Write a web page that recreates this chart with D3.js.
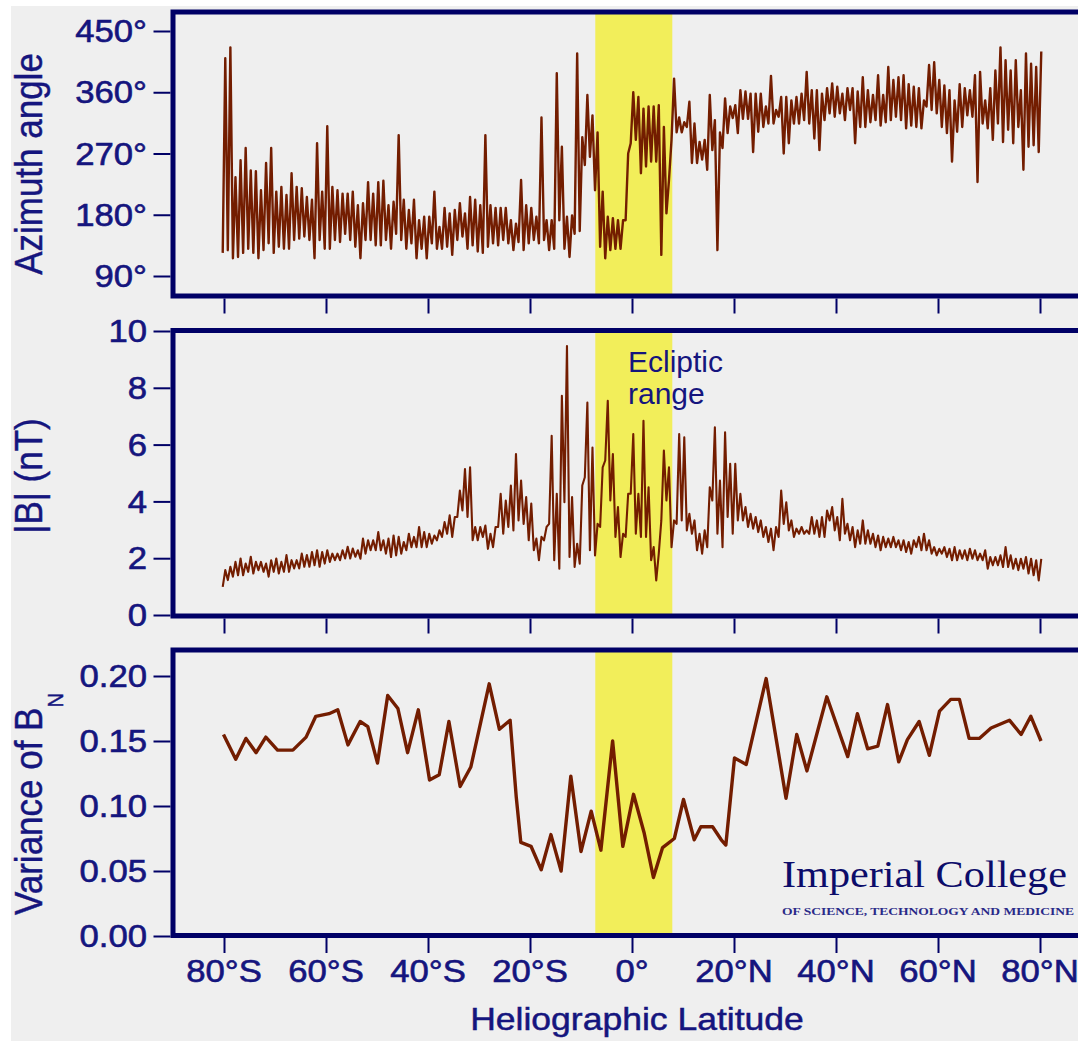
<!DOCTYPE html>
<html>
<head>
<meta charset="utf-8">
<script src="https://cdn.jsdelivr.net/npm/d3@7"></script>
<style>
body { margin: 0; background: #fff; }
svg { display: block; }
</style>
</head>
<body>
<div id="chart"></div>
<script>
// sampling grid of the two dense series (1 degree bins, -80 .. 80)
var latGrid = d3.range(-80, 81, 1);

// azimuth angle: per bin top and bottom of the trace (deg)
var azHigh = [410,426,235,260,278,245,244,216,256,278,
  214,221,209,241,221,219,206,202,285,214,
  310,221,216,211,211,214,194,197,228,211,
  228,230,194,199,297,202,187,202,172,177,
  177,214,162,190,182,187,197,182,206,202,
  194,297,194,190,190,190,172,167,231,194,
  190,177,323,172,172,388,280,177,179,417,
  294,356,326,301,214,177,175,172,172,270,
  360,353,336,339,339,341,309,231,380,323,
  316,346,314,287,290,356,319,301,351,339,
  341,363,361,358,358,358,339,384,334,353,
  353,348,353,358,390,363,363,358,366,373,
  368,358,366,366,361,382,363,356,385,356,
  397,378,382,385,372,368,366,348,400,404,
  378,370,363,348,372,366,363,385,390,348,
  366,392,426,407,392,407,363,417,402,397,
  420];
var azLow = [124,128,116,118,124,130,124,116,128,138,
  124,133,130,130,143,145,148,143,116,143,
  130,130,143,140,152,143,133,116,143,143,
  135,135,143,130,152,143,130,138,116,130,
  116,138,130,130,133,121,143,148,130,135,
  126,124,133,138,135,143,138,128,140,128,
  138,143,138,143,128,130,172,130,118,152,
  156,253,265,216,133,116,128,130,130,172,
  285,290,241,251,258,258,121,182,290,301,
  301,309,256,256,261,246,275,128,278,300,
  322,300,321,321,272,302,309,314,314,324,
  270,285,314,314,319,314,292,275,319,329,
  324,329,319,334,285,309,309,316,319,311,
  316,319,324,319,307,311,309,307,339,334,
  329,309,300,258,302,309,326,324,228,314,
  307,290,314,287,305,285,309,246,280,282,
  272];

// field magnitude |B| (nT)
var bHigh = [1.58,1.70,1.87,1.99,1.81,2.05,1.87,1.87,1.81,1.93,
  1.99,1.87,2.11,1.93,1.93,2.16,2.11,2.22,2.28,2.22,
  2.28,2.16,2.16,2.28,2.40,2.34,2.28,2.69,2.63,2.63,
  2.92,2.63,2.69,2.80,2.75,2.57,2.86,2.75,3.10,2.92,
  2.86,2.80,2.98,3.27,3.51,3.45,4.38,5.14,5.20,3.10,
  3.10,3.15,2.86,3.10,4.27,4.03,4.56,5.67,4.73,4.15,
  3.92,2.69,2.75,3.10,6.31,4.27,7.72,9.47,4.15,2.51,
  4.56,7.48,5.90,3.21,5.20,7.54,5.67,3.80,2.86,4.27,
  6.37,4.27,6.84,4.50,2.39,2.16,5.79,5.20,3.33,6.37,
  6.26,3.56,3.33,2.86,2.98,4.50,6.61,4.73,6.43,5.32,
  5.32,4.27,3.80,3.56,3.45,3.33,3.10,3.04,3.10,4.38,
  3.97,3.33,3.04,3.10,2.98,3.45,3.33,3.45,3.68,3.80,
  3.45,4.09,3.21,3.10,2.98,3.33,2.98,2.86,2.80,2.75,
  2.69,2.75,2.63,2.63,2.57,2.63,2.75,2.86,2.63,2.39,
  2.33,2.39,2.33,2.39,2.28,2.28,2.33,2.28,2.16,2.28,
  2.04,2.04,2.10,2.39,2.10,1.98,1.98,2.04,1.98,1.93,
  1.98];
var bLow = [0.99,1.23,1.35,1.40,1.40,1.52,1.46,1.58,1.52,1.35,
  1.52,1.46,1.52,1.52,1.64,1.64,1.70,1.70,1.75,1.70,
  1.81,1.87,1.93,1.93,1.99,1.99,2.05,1.98,2.16,2.28,
  2.28,2.28,2.16,2.04,2.10,2.16,2.28,2.39,2.39,2.39,
  2.39,2.51,2.63,2.75,2.86,2.75,3.45,3.68,3.45,2.63,
  2.63,2.75,2.33,2.39,3.10,2.86,3.10,2.98,3.33,3.21,
  2.63,2.28,1.93,2.63,3.21,1.93,1.63,3.97,2.04,1.69,
  1.81,4.85,2.28,2.10,3.10,5.44,4.03,2.75,2.04,2.75,
  4.27,2.86,2.75,2.75,1.93,1.22,3.33,4.03,2.39,3.21,
  3.33,2.98,2.86,2.28,2.16,2.39,4.03,2.86,2.39,3.45,
  2.86,3.33,3.33,3.10,3.04,2.92,2.75,2.57,2.28,2.75,
  3.21,2.98,2.75,2.86,2.86,2.86,2.86,2.75,2.75,3.33,
  2.98,2.63,2.86,2.63,2.39,2.51,2.51,2.51,2.39,2.28,
  2.39,2.39,2.39,2.28,2.22,2.16,2.39,2.28,2.28,2.16,
  2.10,2.16,2.04,1.93,1.93,1.98,1.93,1.98,1.93,1.93,
  1.63,1.75,1.75,1.69,1.69,1.63,1.58,1.63,1.46,1.40,
  1.22];

// variance of B_N
var varLat = [-80.1,-77.7,-75.7,-73.7,-71.8,-69.5,-66.5,-63.9,-62.0,-59.4,
  -57.7,-55.7,-53.3,-51.8,-49.9,-47.9,-45.9,-44.0,-41.9,-39.7,
  -37.8,-35.9,-33.7,-31.6,-28.0,-26.0,-23.9,-22.7,-21.8,-19.8,
  -17.8,-15.9,-13.9,-12.0,-10.0,-8.0,-6.1,-3.8,-1.8,0.3,
  2.4,4.2,6.0,8.3,10.1,12.2,13.5,15.8,17.5,18.4,
  20.1,22.4,26.3,30.2,32.3,34.3,38.2,42.3,44.2,46.2,
  48.2,50.1,52.3,54.0,56.3,58.3,60.3,62.5,64.2,66.1,
  68.1,70.4,74.0,76.3,78.2,80.2];
var varVal = [0.155,0.136,0.152,0.141,0.153,0.143,0.143,0.153,0.169,0.171,
  0.174,0.147,0.165,0.161,0.133,0.185,0.175,0.141,0.174,0.120,
  0.124,0.165,0.115,0.130,0.194,0.159,0.166,0.107,0.072,0.069,
  0.051,0.078,0.050,0.123,0.065,0.096,0.066,0.150,0.069,0.109,
  0.079,0.045,0.068,0.075,0.105,0.074,0.084,0.084,0.074,0.070,
  0.137,0.132,0.198,0.106,0.155,0.127,0.184,0.138,0.171,0.144,
  0.146,0.178,0.134,0.151,0.165,0.139,0.173,0.182,0.182,0.152,
  0.152,0.160,0.166,0.155,0.169,0.150];

var latTicks = [-80, -60, -40, -20, 0, 20, 40, 60, 80];
var azTicks = [90, 180, 270, 360, 450];
var bTicks = [0, 2, 4, 6, 8, 10];
var varTicks = [0, 0.05, 0.10, 0.15, 0.20];
var eclipticBand = [-7.2, 7.9];

var W = 1078, H = 1041;
var navy = "#000066", ink = "#15157e", brown = "#731d00";
var sans = "'Liberation Sans', Arial, Helvetica, sans-serif";
var stretch = 1.12; // the original labels are a little wide

var svg = d3.select("#chart").append("svg")
    .attr("width", W)
    .attr("height", H);

svg.append("rect")
    .attr("x", 11).attr("y", 6)
    .attr("width", W).attr("height", H)
    .attr("fill", "#efefef");

var x = d3.scaleLinear().domain([-80, 80]).range([224, 1040]);
var frameLeft = 173, frameRight = 1110;

// zigzag through bottom/top of each bin so the trace looks like the dense record
function envelope(lo, hi){
    var pts = [];
    latGrid.forEach(function(l, i){
        pts.push([l - 0.25, lo[i]]);
        pts.push([l + 0.25, hi[i]]);
    });
    return pts;
}

var panels = [
    {top: 12, bottom: 296, y: d3.scaleLinear().domain([90, 450]).range([276, 31]),
     ticks: azTicks, fmt: function(d){ return d + "°"; },
     pts: envelope(azLow, azHigh), width: 2.4},
    {top: 330.5, bottom: 616, y: d3.scaleLinear().domain([0, 10]).range([615, 331]),
     ticks: bTicks, fmt: function(d){ return d; },
     pts: envelope(bLow, bHigh), width: 2.1},
    {top: 650, bottom: 935.5, y: d3.scaleLinear().domain([0, 0.2]).range([936, 676]),
     ticks: varTicks, fmt: d3.format(".2f"),
     pts: varLat.map(function(l, i){ return [l, varVal[i]]; }), width: 3.4}
];

panels.forEach(function(p, k){
    var g = svg.append("g");

    g.append("rect")
        .attr("x", x(eclipticBand[0]))
        .attr("y", p.top)
        .attr("width", x(eclipticBand[1]) - x(eclipticBand[0]))
        .attr("height", p.bottom - p.top)
        .attr("fill", "#f2ee5a");

    var line = d3.line()
        .x(function(d){ return x(d[0]); })
        .y(function(d){ return p.y(d[1]); });

    g.append("path")
        .datum(p.pts)
        .attr("d", line)
        .attr("fill", "none")
        .attr("stroke", brown)
        .attr("stroke-width", p.width)
        .attr("stroke-linejoin", "round");

    g.append("rect")
        .attr("x", frameLeft)
        .attr("y", p.top)
        .attr("width", frameRight - frameLeft)
        .attr("height", p.bottom - p.top)
        .attr("fill", "none")
        .attr("stroke", navy)
        .attr("stroke-width", 5);

    var ya = g.append("g")
        .attr("transform", "translate(" + (frameLeft - 2.5) + ",0)")
        .call(d3.axisLeft(p.y).tickValues(p.ticks).tickSize(17).tickFormat(""));
    ya.select(".domain").remove();
    ya.selectAll("line").attr("stroke", navy).attr("stroke-width", 2);

    var xa = g.append("g")
        .attr("transform", "translate(0," + (p.bottom + 2.5) + ")")
        .call(d3.axisBottom(x).tickValues(latTicks).tickSize(15).tickFormat(""));
    xa.select(".domain").remove();
    xa.selectAll("line").attr("stroke", navy).attr("stroke-width", 2);

    g.selectAll(".ylab")
        .data(p.ticks)
        .enter().append("text")
        .attr("class", "ylab")
        .attr("transform", function(d){ return "translate(147," + p.y(d) + ") scale(" + stretch + ",1)"; })
        .attr("dy", "0.36em")
        .attr("text-anchor", "end")
        .style("font-family", sans)
        .style("font-size", "31px")
        .style("fill", ink)
        .style("stroke", ink)
        .style("stroke-width", 0.6)
        .text(p.fmt);

    if (k == 2) {
        g.selectAll(".xlab")
            .data(latTicks)
            .enter().append("text")
            .attr("class", "xlab")
            .attr("transform", function(d){ return "translate(" + x(d) + ",982) scale(" + stretch + ",1)"; })
            .attr("text-anchor", "middle")
            .style("font-family", sans)
            .style("font-size", "31px")
            .style("fill", ink)
            .style("stroke", ink)
            .style("stroke-width", 0.6)
            .text(function(d){ return d < 0 ? (-d) + "°S" : d > 0 ? d + "°N" : "0°"; });
    }
});

// axis titles
function vtitle(txt, cx, cy, anchor){
    return svg.append("text")
        .attr("transform", "translate(" + cx + "," + cy + ") scale(1.1,1) rotate(-90)")
        .attr("text-anchor", anchor)
        .style("font-family", sans)
        .style("font-size", "35px")
        .style("fill", ink)
        .style("stroke", ink)
        .style("stroke-width", 0.4)
        .text(txt);
}
vtitle("Azimuth angle", 42, 164, "middle");
vtitle("|B| (nT)", 42, 476, "middle");
vtitle("Variance of B", 42, 915, "start")
    .append("tspan")
    .attr("dy", 19)
    .style("font-size", "20px")
    .text("N");

svg.append("text")
    .attr("transform", "translate(637,1030) scale(1.11,1)")
    .attr("text-anchor", "middle")
    .style("font-family", sans)
    .style("font-size", "32px")
    .style("fill", ink)
    .style("stroke", ink)
    .style("stroke-width", 0.5)
    .text("Heliographic Latitude");

// annotation in the middle panel
var ecl = svg.append("text")
    .style("font-family", sans)
    .style("font-size", "30px")
    .style("fill", ink);
ecl.append("tspan").attr("x", 628).attr("y", 372).text("Ecliptic");
ecl.append("tspan").attr("x", 628).attr("y", 404).text("range");

// logo text
svg.append("text")
    .attr("x", 782).attr("y", 887)
    .attr("textLength", 285)
    .attr("lengthAdjust", "spacingAndGlyphs")
    .style("font-family", "'Liberation Serif', 'Times New Roman', serif")
    .style("font-size", "38px")
    .style("fill", "#0c0c6a")
    .text("Imperial College");
svg.append("text")
    .attr("x", 782).attr("y", 915)
    .attr("textLength", 292)
    .attr("lengthAdjust", "spacingAndGlyphs")
    .style("font-family", "'Liberation Serif', 'Times New Roman', serif")
    .style("font-size", "10px")
    .style("font-weight", "bold")
    .style("fill", "#2a2a88")
    .text("OF SCIENCE, TECHNOLOGY AND MEDICINE");
</script>
</body>
</html>
